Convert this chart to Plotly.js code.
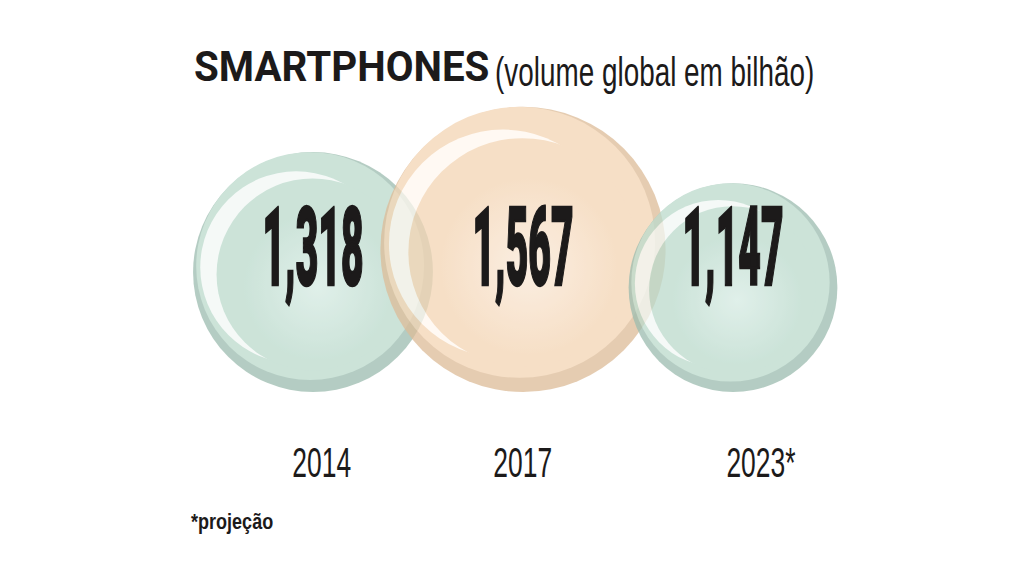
<!DOCTYPE html>
<html><head><meta charset="utf-8">
<script src="https://cdn.plot.ly/plotly-3.0.1.min.js"></script>
<style>
html,body{margin:0;padding:0;background:#fff;}
#chart{width:1024px;height:576px;}
.scatterlayer .textpoint text{transform-box:fill-box;transform-origin:50% 50%;transform:scaleX(0.355);stroke:#1c1a1a;stroke-width:2.5px;}
g.annotation[data-index="0"] text{transform-box:fill-box;transform-origin:0% 50%;transform:scaleX(0.96);}
g.annotation[data-index="1"] text{transform-box:fill-box;transform-origin:0% 50%;transform:scaleX(0.68);}
g.annotation[data-index="2"] text,g.annotation[data-index="3"] text,g.annotation[data-index="4"] text{transform-box:fill-box;transform-origin:50% 50%;transform:scaleX(0.63);}
g.annotation[data-index="5"] text{transform-box:fill-box;transform-origin:0% 50%;transform:scaleX(0.82);}
</style></head>
<body><div id="chart"></div>
<script>
// ---- data ----
const categories = ['2014', '2017', '2023'];
const yearLabels = ['2014', '2017', '2023*'];
const values = [1.318, 1.567, 1.147];
const valueLabels = ['1,318', '1,567', '1,147'];
const titleBold = 'SMARTPHONES';
const titleRest = '(volume global em bilhão)';
const footnote = '*projeção';

// ---- style ----
const palettes = [
  {shadow: '#9cbcaf', body: '#bbdacc', hi: '#f2f8f5', glow: '#d6ebe3'},
  {shadow: '#ddbc98', body: '#f4d5b4', hi: '#fff8f0', glow: '#fae9d8'},
  {shadow: '#9cbcaf', body: '#bbdacc', hi: '#f2f8f5', glow: '#d6ebe3'}
];
const pxPerX = 210;                // px per category step
const sizeref = 1 / 182;           // px diameter per unit value
const baseY = 184;                 // bubbles rest on this line (y axis in px units)
const labelY = 318;
const labelShift = [8, -1, 28];
// glossy layers: [size factor, dx (in diameters), dy (in diameters)]
const layers = [
  {k: 'shadow', s: 1.00, dx: 0.000, dy: 0.000},
  {k: 'body',   s: 0.95, dx: -0.012, dy: 0.025},
  {k: 'hi',     s: 0.80, dx: -0.070, dy: 0.020},
  {k: 'body',   s: 0.80, dx: -0.002, dy: -0.010},
  {k: 'glow',   s: 0.62, dx: 0.020, dy: -0.060}
];

const xPos = categories.map((c, i) => i);
const bubbleY = values.map(v => baseY + v / (2 * sizeref));

const traces = values.map((v, i) => {
  const d = v / sizeref;
  const pal = palettes[i];
  return {
    type: 'scatter', mode: 'markers', opacity: 0.75,
    x: layers.map(L => xPos[i] + L.dx * d / pxPerX),
    y: layers.map(L => bubbleY[i] + L.dy * d),
    marker: {
      size: layers.map(L => v * L.s), sizemode: 'diameter', sizeref: sizeref,
      color: layers.map(L => L.k === 'glow' ? pal.body : pal[L.k]),
      opacity: 1,
      gradient: {type: layers.map(L => L.k === 'glow' ? 'radial' : 'none'), color: pal.glow},
      line: {width: 0}
    },
    hoverinfo: 'skip', showlegend: false
  };
});

traces.push({
  type: 'scatter', mode: 'text',
  x: xPos, y: values.map(() => labelY),
  text: valueLabels, textposition: 'middle center',
  textfont: {family: 'Roboto', size: 110, color: '#1c1a1a', weight: 900},
  hoverinfo: 'skip', showlegend: false
});

const annotations = [
  {text: titleBold, xref: 'paper', yref: 'paper', x: 192/1024, y: 1 - 66/576, xanchor: 'left', yanchor: 'middle',
   showarrow: false, font: {family: 'Roboto', size: 42, color: '#1c1a1a', weight: 700}},
  {text: titleRest, xref: 'paper', yref: 'paper', x: 493/1024, y: 1 - 72/576, xanchor: 'left', yanchor: 'middle',
   showarrow: false, font: {family: 'Liberation Sans', size: 41, color: '#1c1a1a'}}
];
yearLabels.forEach((t, i) => annotations.push({
  text: t, x: xPos[i], xref: 'x', yref: 'paper', y: 1 - 462/576, xanchor: 'center', yanchor: 'middle',
  xshift: labelShift[i], showarrow: false,
  font: {family: 'Liberation Sans', size: 42, color: '#1c1a1a'}
}));
annotations.push({text: footnote, xref: 'paper', yref: 'paper', x: 189/1024, y: 1 - 521/576, xanchor: 'left', yanchor: 'middle',
  showarrow: false, font: {family: 'Liberation Sans', size: 22, color: '#1c1a1a', weight: 700}});

const layout = {
  width: 1024, height: 576,
  margin: {l: 0, r: 0, t: 0, b: 0},
  paper_bgcolor: '#ffffff', plot_bgcolor: '#ffffff',
  xaxis: {range: [-313/pxPerX, -313/pxPerX + 1024/pxPerX], visible: false, fixedrange: true},
  yaxis: {range: [0, 576], visible: false, fixedrange: true},
  annotations: annotations,
  showlegend: false
};

Plotly.newPlot('chart', traces, layout, {displayModeBar: false, staticPlot: true});
</script></body></html>
